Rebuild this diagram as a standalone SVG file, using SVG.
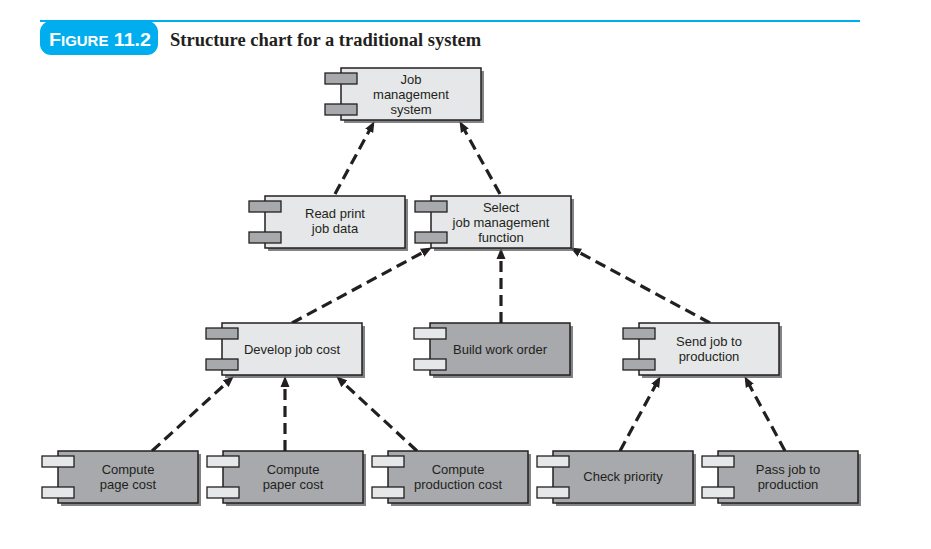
<svg xmlns="http://www.w3.org/2000/svg" width="931" height="549" viewBox="0 0 931 549">
<style>
.sh{fill:#58595b;opacity:0.75}
.lt{fill:#e6e7e8;stroke:#231f20;stroke-width:1.5}
.dk{fill:#a7a9ac;stroke:#231f20;stroke-width:1.5}
.tl{fill:#e6e7e8;stroke:#231f20;stroke-width:1.3}
.td{fill:#a7a9ac;stroke:#231f20;stroke-width:1.3}
.lbl{font-family:"Liberation Sans",Arial,sans-serif;font-size:13px;fill:#231f20;text-anchor:middle}
.cn{fill:none;stroke:#231f20;stroke-width:3.2;stroke-dasharray:11 6}
</style>
<defs>
<marker id="ah" markerUnits="userSpaceOnUse" markerWidth="12" markerHeight="10" refX="4" refY="5" orient="auto">
<path d="M0,0.5 L11,5 L0,9.5 z" fill="#231f20"/>
</marker>
</defs>
<rect width="931" height="549" fill="#ffffff"/>
<g id="header">
<line x1="40" y1="21" x2="860" y2="21" stroke="#00aeef" stroke-width="2"/>
<rect x="40" y="21" width="118" height="34" rx="11" fill="#00aeef"/>
<text x="49" y="45.5" font-family="Liberation Sans,Arial,sans-serif" font-weight="bold" fill="#ffffff" textLength="102" lengthAdjust="spacingAndGlyphs"><tspan font-size="19">F</tspan><tspan font-size="14.5">IGURE</tspan><tspan font-size="19"> 11.2</tspan></text>
<text x="170" y="46" font-family="Liberation Serif,Times New Roman,serif" font-weight="bold" font-size="18.5" fill="#231f20">Structure chart for a traditional system</text>
</g>
<g id="connectors">
<line class="cn" x1="335" y1="194" x2="371.1" y2="127.3" marker-end="url(#ah)"/>
<line class="cn" x1="500" y1="194" x2="462.9" y2="127.2" marker-end="url(#ah)"/>
<line class="cn" x1="292" y1="323" x2="425.7" y2="250.9" marker-end="url(#ah)"/>
<line class="cn" x1="501" y1="323" x2="501" y2="255" marker-end="url(#ah)"/>
<line class="cn" x1="710" y1="323" x2="576.3" y2="250.9" marker-end="url(#ah)"/>
<line class="cn" x1="152" y1="451" x2="228.6" y2="381" marker-end="url(#ah)"/>
<line class="cn" x1="285" y1="451" x2="285" y2="383" marker-end="url(#ah)"/>
<line class="cn" x1="417" y1="451" x2="341.4" y2="381.1" marker-end="url(#ah)"/>
<line class="cn" x1="620" y1="451" x2="657.1" y2="382.3" marker-end="url(#ah)"/>
<line class="cn" x1="785" y1="451" x2="747.9" y2="382.3" marker-end="url(#ah)"/>
</g>
<g id="job-management-system">
<rect class="sh" x="344" y="71" width="140" height="52"/>
<rect class="lt" x="341" y="68" width="140" height="52"/>
<rect class="td" x="325" y="73" width="32" height="11"/>
<rect class="td" x="325" y="104" width="32" height="11"/>
<text class="lbl" x="411" y="83.5">Job</text>
<text class="lbl" x="411" y="98.5">management</text>
<text class="lbl" x="411" y="113.5">system</text>
</g>
<g id="read-print-job-data">
<rect class="sh" x="268" y="199" width="140" height="52"/>
<rect class="lt" x="265" y="196" width="140" height="52"/>
<rect class="td" x="249" y="201" width="32" height="11"/>
<rect class="td" x="249" y="232" width="32" height="11"/>
<text class="lbl" x="335" y="218">Read print</text>
<text class="lbl" x="335" y="233">job data</text>
</g>
<g id="select-job-management-function">
<rect class="sh" x="434" y="199" width="140" height="52"/>
<rect class="lt" x="431" y="196" width="140" height="52"/>
<rect class="td" x="415" y="201" width="32" height="11"/>
<rect class="td" x="415" y="232" width="32" height="11"/>
<text class="lbl" x="501" y="211.5">Select</text>
<text class="lbl" x="501" y="226.5">job management</text>
<text class="lbl" x="501" y="241.5">function</text>
</g>
<g id="develop-job-cost">
<rect class="sh" x="225" y="326" width="140" height="52"/>
<rect class="lt" x="222" y="323" width="140" height="52"/>
<rect class="td" x="206" y="328" width="32" height="11"/>
<rect class="td" x="206" y="359" width="32" height="11"/>
<text class="lbl" x="292" y="353.5">Develop job cost</text>
</g>
<g id="build-work-order">
<rect class="sh" x="433" y="326" width="140" height="52"/>
<rect class="dk" x="430" y="323" width="140" height="52"/>
<rect class="tl" x="414" y="328" width="32" height="11"/>
<rect class="tl" x="414" y="359" width="32" height="11"/>
<text class="lbl" x="500" y="353.5">Build work order</text>
</g>
<g id="send-job-to-production">
<rect class="sh" x="642" y="326" width="140" height="52"/>
<rect class="lt" x="639" y="323" width="140" height="52"/>
<rect class="td" x="623" y="328" width="32" height="11"/>
<rect class="td" x="623" y="359" width="32" height="11"/>
<text class="lbl" x="709" y="346">Send job to</text>
<text class="lbl" x="709" y="361">production</text>
</g>
<g id="compute-page-cost">
<rect class="sh" x="61" y="454" width="140" height="52"/>
<rect class="dk" x="58" y="451" width="140" height="52"/>
<rect class="tl" x="42" y="456" width="32" height="11"/>
<rect class="tl" x="42" y="487" width="32" height="11"/>
<text class="lbl" x="128" y="474">Compute</text>
<text class="lbl" x="128" y="489">page cost</text>
</g>
<g id="compute-paper-cost">
<rect class="sh" x="226" y="454" width="140" height="52"/>
<rect class="dk" x="223" y="451" width="140" height="52"/>
<rect class="tl" x="207" y="456" width="32" height="11"/>
<rect class="tl" x="207" y="487" width="32" height="11"/>
<text class="lbl" x="293" y="474">Compute</text>
<text class="lbl" x="293" y="489">paper cost</text>
</g>
<g id="compute-production-cost">
<rect class="sh" x="391" y="454" width="140" height="52"/>
<rect class="dk" x="388" y="451" width="140" height="52"/>
<rect class="tl" x="372" y="456" width="32" height="11"/>
<rect class="tl" x="372" y="487" width="32" height="11"/>
<text class="lbl" x="458" y="474">Compute</text>
<text class="lbl" x="458" y="489">production cost</text>
</g>
<g id="check-priority">
<rect class="sh" x="556" y="454" width="140" height="52"/>
<rect class="dk" x="553" y="451" width="140" height="52"/>
<rect class="tl" x="537" y="456" width="32" height="11"/>
<rect class="tl" x="537" y="487" width="32" height="11"/>
<text class="lbl" x="623" y="481">Check priority</text>
</g>
<g id="pass-job-to-production">
<rect class="sh" x="721" y="454" width="140" height="52"/>
<rect class="dk" x="718" y="451" width="140" height="52"/>
<rect class="tl" x="702" y="456" width="32" height="11"/>
<rect class="tl" x="702" y="487" width="32" height="11"/>
<text class="lbl" x="788" y="474">Pass job to</text>
<text class="lbl" x="788" y="489">production</text>
</g>
</svg>
